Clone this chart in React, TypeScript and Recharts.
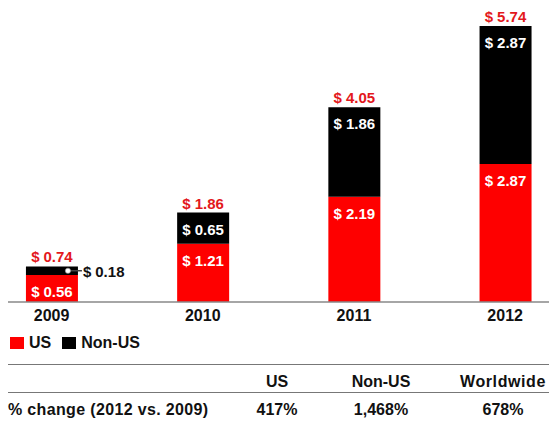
import { Bar, BarChart, LabelList, XAxis, YAxis } from 'recharts'

const YEARS = ['2009', '2010', '2011', '2012']
const US = [0.56, 1.21, 2.19, 2.87]
const NON_US = [0.18, 0.65, 1.86, 2.87]

const TABLE_HEAD = ['US', 'Non-US', 'Worldwide']
const TABLE_ROW_LABEL = '% change (2012 vs. 2009)'
const TABLE_ROW = ['417%', '1,468%', '678%']

const RED = '#fe0000'
const LABEL_RED = '#e3181c'
const FONT = '"Liberation Sans", Arial, sans-serif'

const SERIES = [
  { key: 'us', name: 'US', color: RED },
  { key: 'nonUs', name: 'Non-US', color: '#000' },
]

const data = YEARS.map((year, i) => ({ idx: i, year, us: US[i], nonUs: NON_US[i] }))

// "$" is drawn narrower in the original, like a condensed glyph
function Money({ v }: { v: number }) {
  return (
    <>
      <tspan fontFamily='"Liberation Sans Narrow", "Liberation Sans", sans-serif'>$</tspan>
      <tspan dx={4}>{v.toFixed(2)}</tspan>
    </>
  )
}

function UsLabel(props: any) {
  const { x, y, width, index } = props
  return (
    <text x={x + width / 2} y={y + 16} fill="#fff" textAnchor="middle" dominantBaseline="central"
      fontSize={15} fontWeight="bold" fontFamily={FONT}>
      <Money v={US[index]} />
    </text>
  )
}

function NonUsLabel(props: any) {
  const { x, y, width, height, index } = props
  const cx = x + width / 2
  const total = US[index] + NON_US[index]
  const small = height < 20
  return (
    <g>
      <text x={cx} y={y - 10} fill={LABEL_RED} textAnchor="middle" dominantBaseline="central"
        fontSize={15} fontWeight="bold" fontFamily={FONT}>
        <Money v={total} />
      </text>
      {small ? (
        <g>
          <line x1={x + width - 10} y1={y + height / 2} x2={x + width + 4} y2={y + height / 2} stroke="#444" strokeWidth={1.5} />
          <circle cx={x + width - 10} cy={y + height / 2} r={2.6} fill="#fff" stroke="#999" strokeWidth={0.6} />
          <text x={x + width + 5} y={y + height / 2} fill="#111" dominantBaseline="central"
            fontSize={15} fontWeight="bold" fontFamily={FONT}>
            <Money v={NON_US[index]} />
          </text>
        </g>
      ) : (
        <text x={cx} y={y + 16} fill="#fff" textAnchor="middle" dominantBaseline="central"
          fontSize={15} fontWeight="bold" fontFamily={FONT}>
          <Money v={NON_US[index]} />
        </text>
      )}
    </g>
  )
}

const COL_CENTERS = [277, 381, 503]

export default function App() {
  return (
    <div style={{ position: 'absolute', left: 0, top: 0, width: 549, height: 421, background: '#fff', fontFamily: FONT, color: '#111' }}>
      <BarChart width={549} height={330} data={data} margin={{ top: 13.4, right: 0, left: 8, bottom: 0 }}>
        <XAxis
          dataKey="idx"
          type="number"
          domain={[-0.288, 3.29]}
          ticks={[0, 1, 2, 3]}
          tickFormatter={(v) => YEARS[Number(v)] ?? ''}
          allowDataOverflow
          height={28}
          tickLine={false}
          axisLine={{ stroke: '#888', strokeWidth: 1.5 }}
          tick={{ fill: '#111', fontSize: 16, fontWeight: 'bold', fontFamily: FONT }}
        />
        <YAxis hide domain={[0, 6]} />
        <Bar dataKey="us" stackId="a" fill={RED} barSize={52} isAnimationActive={false}>
          <LabelList content={UsLabel} />
        </Bar>
        <Bar dataKey="nonUs" stackId="a" fill="#000" barSize={52} isAnimationActive={false}>
          <LabelList content={NonUsLabel} />
        </Bar>
      </BarChart>

      {/* legend */}
      <div style={{ position: 'absolute', left: 10, top: 334, display: 'flex', alignItems: 'center', fontSize: 16, fontWeight: 'bold' }}>
        {SERIES.map((s) => (
          <div key={s.key} style={{ display: 'flex', alignItems: 'center', marginRight: 11 }}>
            <span style={{ display: 'inline-block', width: 14, height: 12, background: s.color, marginRight: 5 }} />
            <span>{s.name}</span>
          </div>
        ))}
      </div>

      {/* summary table */}
      <div style={{ position: 'absolute', left: 8, right: 0, top: 364, borderTop: '1.5px solid #777' }} />
      <div style={{ position: 'absolute', left: 8, right: 0, top: 392, borderTop: '1.5px solid #777' }} />
      {TABLE_HEAD.map((h, i) => (
        <div key={h} style={{ position: 'absolute', left: COL_CENTERS[i] - 60, width: 120, top: 372, textAlign: 'center', fontSize: 16, fontWeight: 'bold', lineHeight: '20px', letterSpacing: h === 'Worldwide' ? 0.6 : 0 }}>
          {h}
        </div>
      ))}
      <div style={{ position: 'absolute', left: 8, top: 400, fontSize: 16, fontWeight: 'bold', lineHeight: '20px', letterSpacing: 0.35 }}>
        {TABLE_ROW_LABEL}
      </div>
      {TABLE_ROW.map((v, i) => (
        <div key={v} style={{ position: 'absolute', left: COL_CENTERS[i] - 60, width: 120, top: 400, textAlign: 'center', fontSize: 16, fontWeight: 'bold', lineHeight: '20px' }}>
          {v}
        </div>
      ))}
    </div>
  )
}
